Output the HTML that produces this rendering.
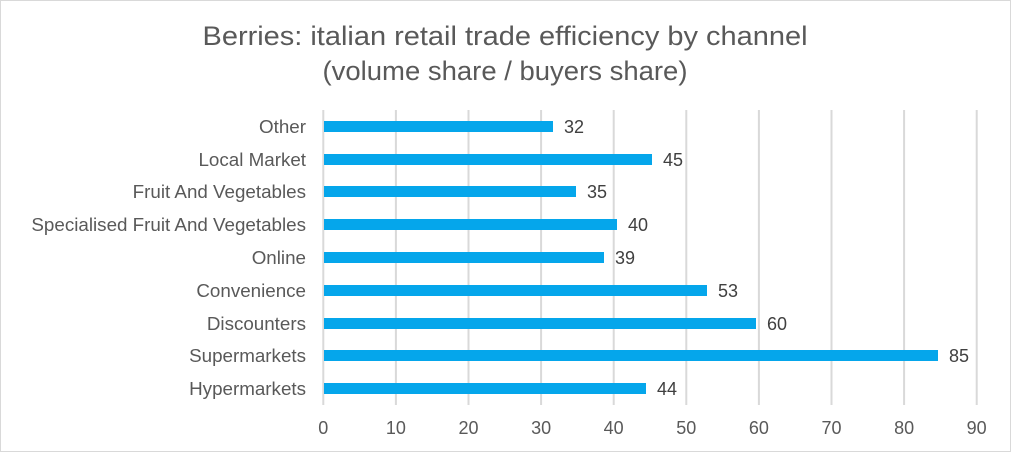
<!DOCTYPE html><html><head><style>body{margin:0;background:#fff}</style></head><body>
<svg width="1011" height="452" xmlns="http://www.w3.org/2000/svg" font-family="Liberation Sans, Arial, sans-serif">
<rect x="0.5" y="0.5" width="1010" height="451" fill="#fff" stroke="#d9d9d9"/>
<text x="505" y="45" text-anchor="middle" font-size="27" fill="#595959" textLength="605" lengthAdjust="spacingAndGlyphs">Berries: italian retail trade efficiency by channel</text>
<text x="505" y="80" text-anchor="middle" font-size="27" fill="#595959" textLength="365" lengthAdjust="spacingAndGlyphs">(volume share / buyers share)</text>
<g stroke="#d9d9d9" stroke-width="2">
<line x1="323.3" y1="110" x2="323.3" y2="405"/><line x1="395.9" y1="110" x2="395.9" y2="405"/><line x1="468.5" y1="110" x2="468.5" y2="405"/><line x1="541.1" y1="110" x2="541.1" y2="405"/><line x1="613.7" y1="110" x2="613.7" y2="405"/><line x1="686.3" y1="110" x2="686.3" y2="405"/><line x1="758.9" y1="110" x2="758.9" y2="405"/><line x1="831.5" y1="110" x2="831.5" y2="405"/><line x1="904.1" y1="110" x2="904.1" y2="405"/><line x1="976.7" y1="110" x2="976.7" y2="405"/>
</g>
<g font-size="18" fill="#595959" text-anchor="middle">
<text x="323.3" y="434">0</text><text x="395.9" y="434">10</text><text x="468.5" y="434">20</text><text x="541.1" y="434">30</text><text x="613.7" y="434">40</text><text x="686.3" y="434">50</text><text x="758.9" y="434">60</text><text x="831.5" y="434">70</text><text x="904.1" y="434">80</text><text x="976.7" y="434">90</text>
</g>
<g fill="#05a6eb">
<rect x="324" y="121" width="229" height="11"/>
<rect x="324" y="154" width="328" height="11"/>
<rect x="324" y="186" width="252" height="11"/>
<rect x="324" y="219" width="293" height="11"/>
<rect x="324" y="252" width="280" height="11"/>
<rect x="324" y="285" width="383" height="11"/>
<rect x="324" y="318" width="432" height="11"/>
<rect x="324" y="350" width="614" height="11"/>
<rect x="324" y="383" width="322" height="11"/>
</g>
<g font-size="18" fill="#404040">
<text x="564" y="133">32</text><text x="663" y="166">45</text><text x="587" y="198">35</text><text x="628" y="231">40</text><text x="615" y="264">39</text><text x="718" y="297">53</text><text x="767" y="330">60</text><text x="949" y="362">85</text><text x="657" y="395">44</text>
</g>
<g font-size="18.8" fill="#595959" text-anchor="end">
<text x="306" y="133">Other</text><text x="306" y="166">Local Market</text><text x="306" y="198">Fruit And Vegetables</text><text x="306" y="231">Specialised Fruit And Vegetables</text><text x="306" y="264">Online</text><text x="306" y="297">Convenience</text><text x="306" y="330">Discounters</text><text x="306" y="362">Supermarkets</text><text x="306" y="395">Hypermarkets</text>
</g>
</svg></body></html>
